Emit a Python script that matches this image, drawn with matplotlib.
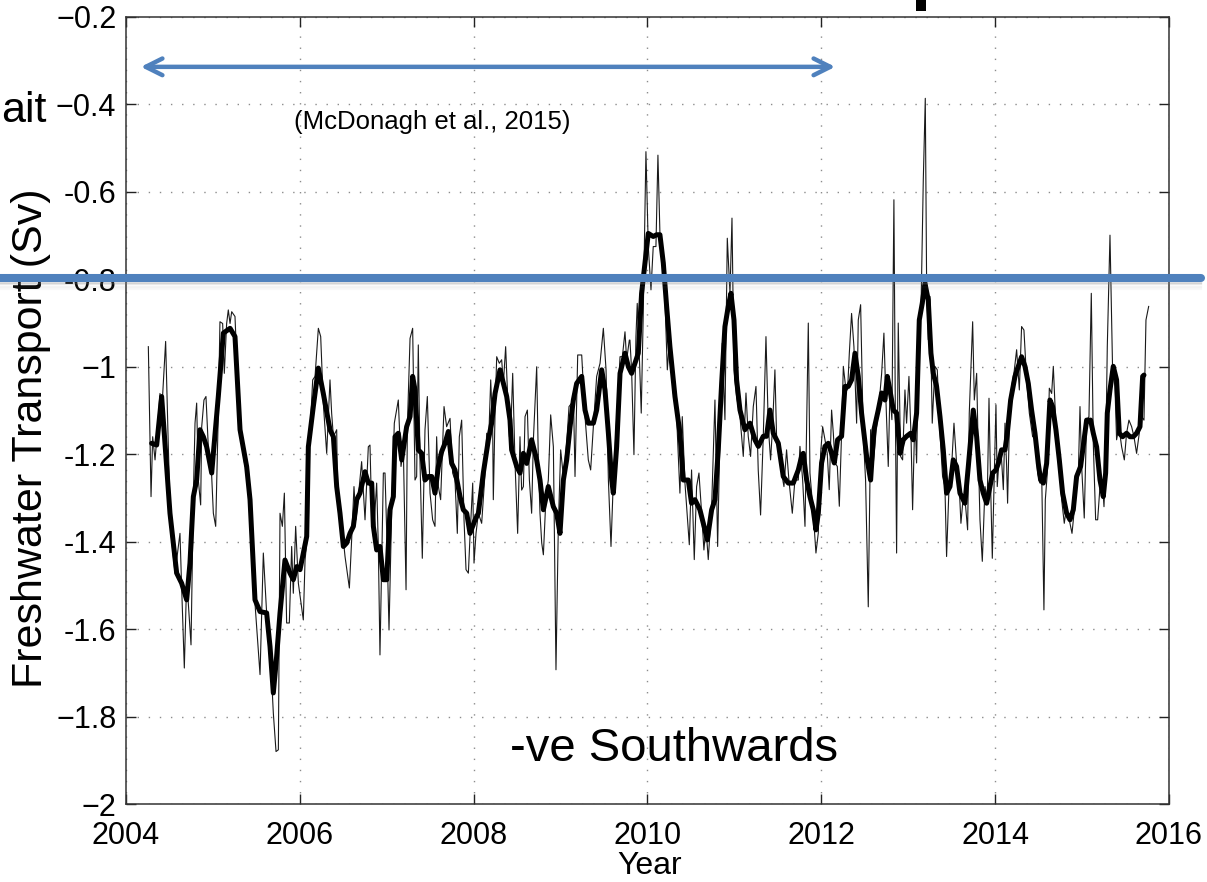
import matplotlib
matplotlib.use("Agg")
import matplotlib.pyplot as plt
from matplotlib.lines import Line2D
from matplotlib.patches import Rectangle

plt.rcParams['font.family'] = ['Liberation Sans', 'DejaVu Sans']

# ---- weekly-ish freshwater transport (thin) ----
thin_year = [
    2004.257, 2004.288, 2004.307, 2004.334, 2004.353, 2004.391, 2004.410, 2004.456, 2004.487, 2004.514,
    2004.564, 2004.621, 2004.640, 2004.671, 2004.698, 2004.717, 2004.748, 2004.775, 2004.794, 2004.813,
    2004.832, 2004.859, 2004.871, 2004.897, 2004.920, 2004.947, 2004.986, 2005.005, 2005.032, 2005.062,
    2005.081, 2005.112, 2005.131, 2005.158, 2005.177, 2005.197, 2005.216, 2005.254, 2005.292, 2005.331,
    2005.369, 2005.407, 2005.446, 2005.484, 2005.542, 2005.580, 2005.618, 2005.657, 2005.695, 2005.726,
    2005.753, 2005.772, 2005.799, 2005.822, 2005.848, 2005.879, 2005.906, 2005.925, 2005.952, 2005.983,
    2006.040, 2006.060, 2006.098, 2006.109, 2006.148, 2006.175, 2006.213, 2006.240, 2006.270, 2006.309,
    2006.347, 2006.366, 2006.386, 2006.424, 2006.432, 2006.481, 2006.520, 2006.570, 2006.596, 2006.623,
    2006.646, 2006.673, 2006.711, 2006.750, 2006.788, 2006.807, 2006.819, 2006.846, 2006.884, 2006.903,
    2006.922, 2006.961, 2006.980, 2007.000, 2007.026, 2007.057, 2007.087, 2007.133, 2007.164, 2007.191,
    2007.222, 2007.237, 2007.268, 2007.298, 2007.325, 2007.344, 2007.363, 2007.383, 2007.409, 2007.440,
    2007.467, 2007.498, 2007.528, 2007.555, 2007.574, 2007.594, 2007.620, 2007.659, 2007.689, 2007.728,
    2007.758, 2007.785, 2007.812, 2007.835, 2007.862, 2007.889, 2007.912, 2007.939, 2007.958, 2007.989,
    2008.004, 2008.027, 2008.054, 2008.092, 2008.131, 2008.150, 2008.169, 2008.196, 2008.219, 2008.226,
    2008.246, 2008.265, 2008.295, 2008.322, 2008.342, 2008.368, 2008.391, 2008.411, 2008.426, 2008.449,
    2008.476, 2008.506, 2008.533, 2008.552, 2008.572, 2008.591, 2008.618, 2008.641, 2008.667, 2008.687,
    2008.725, 2008.744, 2008.763, 2008.783, 2008.802, 2008.832, 2008.859, 2008.886, 2008.917, 2008.947,
    2008.974, 2009.001, 2009.032, 2009.070, 2009.097, 2009.128, 2009.147, 2009.166, 2009.197, 2009.243,
    2009.281, 2009.319, 2009.346, 2009.377, 2009.415, 2009.454, 2009.492, 2009.523, 2009.550, 2009.580,
    2009.607, 2009.645, 2009.684, 2009.711, 2009.741, 2009.760, 2009.791, 2009.798, 2009.817, 2009.844,
    2009.867, 2009.882, 2009.905, 2009.928, 2009.951, 2009.982, 2010.009, 2010.040, 2010.066, 2010.097,
    2010.120, 2010.143, 2010.182, 2010.228, 2010.258, 2010.297, 2010.335, 2010.373, 2010.400, 2010.431,
    2010.481, 2010.507, 2010.538, 2010.565, 2010.592, 2010.623, 2010.649, 2010.672, 2010.699, 2010.738,
    2010.776, 2010.807, 2010.833, 2010.860, 2010.891, 2010.918, 2010.949, 2010.972, 2010.995, 2011.025,
    2011.064, 2011.102, 2011.133, 2011.159, 2011.186, 2011.217, 2011.248, 2011.274, 2011.301, 2011.332,
    2011.363, 2011.390, 2011.416, 2011.439, 2011.466, 2011.485, 2011.512, 2011.543, 2011.570, 2011.600,
    2011.627, 2011.666, 2011.696, 2011.735, 2011.754, 2011.785, 2011.812, 2011.850, 2011.869, 2011.907,
    2011.938, 2011.965, 2011.992, 2012.015, 2012.042, 2012.068, 2012.091, 2012.118, 2012.138, 2012.157,
    2012.184, 2012.207, 2012.233, 2012.253, 2012.279, 2012.302, 2012.322, 2012.348, 2012.375, 2012.406,
    2012.425, 2012.452, 2012.483, 2012.509, 2012.540, 2012.567, 2012.598, 2012.628, 2012.655, 2012.694,
    2012.720, 2012.743, 2012.770, 2012.789, 2012.812, 2012.835, 2012.851, 2012.866, 2012.885, 2012.912,
    2012.935, 2012.962, 2012.981, 2013.008, 2013.031, 2013.050, 2013.077, 2013.096, 2013.123, 2013.146,
    2013.173, 2013.196, 2013.211, 2013.230, 2013.250, 2013.276, 2013.307, 2013.334, 2013.365, 2013.395,
    2013.422, 2013.441, 2013.468, 2013.499, 2013.526, 2013.556, 2013.583, 2013.606, 2013.633, 2013.660,
    2013.683, 2013.702, 2013.741, 2013.760, 2013.787, 2013.806, 2013.825, 2013.852, 2013.883, 2013.909,
    2013.929, 2013.948, 2013.967, 2013.990, 2014.009, 2014.024, 2014.044, 2014.067, 2014.094, 2014.113,
    2014.132, 2014.143, 2014.163, 2014.189, 2014.216, 2014.247, 2014.278, 2014.304, 2014.331, 2014.362,
    2014.393, 2014.431, 2014.458, 2014.489, 2014.515, 2014.535, 2014.561, 2014.577, 2014.600, 2014.623,
    2014.650, 2014.669, 2014.699, 2014.738, 2014.765, 2014.795, 2014.822, 2014.861, 2014.884, 2014.907,
    2014.930, 2014.956, 2014.976, 2014.995, 2015.025, 2015.052, 2015.079, 2015.106, 2015.129, 2015.156,
    2015.179, 2015.206, 2015.232, 2015.252, 2015.271, 2015.290, 2015.321, 2015.351, 2015.378, 2015.397,
    2015.424, 2015.455, 2015.486, 2015.512, 2015.539, 2015.570, 2015.597, 2015.627, 2015.658, 2015.685,
    2015.712, 2015.735, 2015.766,
]
thin_fw = [
    -0.954, -1.297, -1.160, -1.213, -1.167, -1.061, -1.106, -0.942, -1.183, -1.373,
    -1.472, -1.381, -1.503, -1.689, -1.487, -1.541, -1.636, -1.297, -1.129, -1.083,
    -1.259, -1.316, -1.137, -1.076, -1.068, -1.183, -1.251, -1.335, -1.365, -1.106,
    -0.897, -0.901, -1.015, -0.901, -0.870, -0.901, -0.874, -0.885, -1.068, -1.175,
    -1.228, -1.228, -1.396, -1.541, -1.704, -1.426, -1.563, -1.640, -1.792, -1.880,
    -1.876, -1.335, -1.365, -1.289, -1.586, -1.586, -1.411, -1.518, -1.365, -1.495,
    -1.579, -1.442, -1.365, -1.183, -1.030, -1.022, -0.912, -0.931, -1.083, -1.198,
    -1.030, -1.106, -1.160, -1.144, -1.274, -1.358, -1.434, -1.506, -1.396, -1.274,
    -1.350, -1.297, -1.217, -1.350, -1.183, -1.179, -1.274, -1.388, -1.266, -1.411,
    -1.659, -1.243, -1.243, -1.381, -1.602, -1.327, -1.129, -1.076, -1.228, -1.190,
    -1.510, -1.137, -0.935, -0.912, -1.259, -1.251, -0.950, -1.221, -1.438, -1.144,
    -1.068, -1.289, -1.350, -1.365, -1.160, -1.274, -1.304, -1.091, -1.137, -1.118,
    -1.243, -1.259, -1.381, -1.160, -1.122, -1.350, -1.464, -1.472, -1.388, -1.266,
    -1.449, -1.381, -1.335, -1.358, -1.243, -1.152, -1.190, -1.030, -1.144, -1.304,
    -1.106, -0.977, -0.992, -0.984, -1.038, -0.954, -1.068, -1.160, -1.152, -1.015,
    -1.221, -1.381, -1.160, -1.282, -1.274, -1.114, -1.099, -1.259, -1.335, -1.167,
    -1.000, -1.213, -1.335, -1.403, -1.430, -1.297, -1.259, -1.110, -1.183, -1.693,
    -1.365, -1.190, -1.251, -1.175, -1.091, -1.083, -1.061, -1.251, -0.973, -0.973,
    -1.114, -1.213, -1.236, -1.137, -1.022, -0.992, -0.912, -1.007, -1.259, -1.411,
    -1.259, -1.122, -0.977, -0.977, -0.920, -0.984, -0.939, -0.939, -1.007, -1.201,
    -0.931, -0.855, -0.969, -1.106, -0.878, -0.508, -0.725, -0.824, -0.725, -0.725,
    -0.516, -0.695, -0.740, -1.007, -0.923, -1.060, -1.114, -1.289, -1.114, -1.266,
    -1.407, -1.236, -1.441, -1.274, -1.243, -1.335, -1.419, -1.365, -1.441, -1.319,
    -1.076, -1.411, -1.159, -0.946, -1.121, -0.706, -0.832, -0.660, -1.007, -1.068,
    -1.114, -1.205, -1.060, -1.159, -1.205, -1.091, -1.045, -1.236, -1.339, -1.159,
    -0.931, -1.137, -1.213, -1.137, -1.007, -1.159, -1.190, -1.243, -1.274, -1.190,
    -1.259, -1.335, -1.259, -1.259, -1.182, -1.259, -1.365, -0.900, -1.243, -1.335,
    -1.426, -1.380, -1.198, -1.137, -1.167, -1.198, -1.281, -1.099, -1.152, -1.220,
    -1.228, -1.319, -1.152, -0.999, -1.045, -1.053, -0.969, -0.878, -0.954, -1.129,
    -0.893, -0.858, -1.159, -1.259, -1.549, -1.144, -1.220, -1.152, -1.106, -1.015,
    -0.923, -1.076, -1.228, -1.060, -1.121, -0.618, -1.091, -1.426, -0.900, -1.205,
    -1.213, -1.053, -1.129, -1.022, -1.152, -1.327, -1.106, -1.220, -0.931, -0.878,
    -0.573, -0.386, -0.801, -0.938, -0.839, -1.129, -0.999, -1.007, -1.152, -1.251,
    -1.274, -1.434, -1.281, -1.228, -1.129, -1.220, -1.259, -1.358, -1.297, -1.319,
    -1.373, -1.106, -0.897, -1.076, -1.015, -1.198, -1.350, -1.445, -1.274, -1.304,
    -1.072, -1.274, -1.438, -1.243, -1.087, -1.274, -1.213, -1.190, -1.281, -1.129,
    -1.228, -1.312, -1.137, -1.045, -1.015, -0.961, -1.053, -0.908, -0.916, -1.030,
    -1.106, -1.160, -1.160, -1.243, -1.266, -1.243, -1.556, -1.304, -1.243, -1.049,
    -1.061, -0.999, -1.137, -1.228, -1.304, -1.358, -1.320, -1.358, -1.381, -1.335,
    -1.266, -1.251, -1.091, -1.228, -1.346, -1.122, -1.114, -0.832, -1.175, -1.350,
    -1.350, -1.274, -1.259, -1.320, -1.213, -0.954, -0.699, -1.007, -1.045, -1.167,
    -1.137, -1.183, -1.213, -1.152, -1.122, -1.137, -1.160, -1.198, -1.152, -1.114,
    -1.122, -0.893, -0.862,
]

# ---- low-pass filtered transport (thick) ----
smooth_year = [
    2004.295, 2004.353, 2004.410, 2004.506, 2004.583, 2004.640, 2004.698, 2004.736, 2004.775, 2004.813,
    2004.851, 2004.890, 2004.928, 2004.986, 2005.005, 2005.062, 2005.120, 2005.197, 2005.254, 2005.312,
    2005.388, 2005.427, 2005.484, 2005.542, 2005.618, 2005.657, 2005.695, 2005.733, 2005.772, 2005.829,
    2005.887, 2005.925, 2005.964, 2006.002, 2006.079, 2006.098, 2006.155, 2006.213, 2006.270, 2006.347,
    2006.386, 2006.424, 2006.462, 2006.501, 2006.539, 2006.577, 2006.616, 2006.654, 2006.692, 2006.750,
    2006.788, 2006.827, 2006.846, 2006.884, 2006.922, 2006.961, 2007.000, 2007.037, 2007.076, 2007.095,
    2007.133, 2007.172, 2007.229, 2007.268, 2007.298, 2007.325, 2007.363, 2007.402, 2007.440, 2007.478,
    2007.517, 2007.555, 2007.594, 2007.632, 2007.670, 2007.709, 2007.747, 2007.785, 2007.843, 2007.881,
    2007.920, 2007.958, 2008.016, 2008.054, 2008.111, 2008.169, 2008.207, 2008.246, 2008.303, 2008.342,
    2008.380, 2008.418, 2008.437, 2008.495, 2008.533, 2008.572, 2008.610, 2008.667, 2008.725, 2008.763,
    2008.802, 2008.859, 2008.917, 2008.955, 2008.993, 2009.032, 2009.070, 2009.109, 2009.147, 2009.185,
    2009.243, 2009.281, 2009.319, 2009.377, 2009.415, 2009.473, 2009.511, 2009.550, 2009.588, 2009.607,
    2009.645, 2009.684, 2009.741, 2009.780, 2009.817, 2009.894, 2009.932, 2009.971, 2010.009, 2010.066,
    2010.105, 2010.143, 2010.182, 2010.220, 2010.258, 2010.316, 2010.373, 2010.412, 2010.469, 2010.507,
    2010.546, 2010.603, 2010.642, 2010.688, 2010.738, 2010.776, 2010.814, 2010.853, 2010.891, 2010.929,
    2010.960, 2010.995, 2011.025, 2011.064, 2011.121, 2011.179, 2011.236, 2011.275, 2011.332, 2011.370,
    2011.409, 2011.447, 2011.505, 2011.562, 2011.620, 2011.677, 2011.735, 2011.773, 2011.792, 2011.831,
    2011.869, 2011.907, 2011.938, 2011.965, 2012.003, 2012.042, 2012.080, 2012.118, 2012.149, 2012.187,
    2012.233, 2012.272, 2012.310, 2012.348, 2012.387, 2012.425, 2012.463, 2012.521, 2012.567, 2012.605,
    2012.655, 2012.694, 2012.732, 2012.759, 2012.789, 2012.828, 2012.866, 2012.905, 2012.943, 2012.981,
    2013.027, 2013.058, 2013.096, 2013.127, 2013.161, 2013.192, 2013.230, 2013.261, 2013.288, 2013.326,
    2013.365, 2013.403, 2013.441, 2013.480, 2013.518, 2013.556, 2013.595, 2013.652, 2013.691, 2013.748,
    2013.787, 2013.825, 2013.863, 2013.902, 2013.932, 2013.971, 2014.009, 2014.036, 2014.074, 2014.113,
    2014.140, 2014.178, 2014.228, 2014.266, 2014.304, 2014.343, 2014.381, 2014.419, 2014.458, 2014.496,
    2014.523, 2014.554, 2014.592, 2014.630, 2014.661, 2014.699, 2014.738, 2014.776, 2014.822, 2014.861,
    2014.899, 2014.937, 2014.983, 2015.022, 2015.052, 2015.098, 2015.129, 2015.167, 2015.206, 2015.244,
    2015.271, 2015.290, 2015.321, 2015.359, 2015.397, 2015.428, 2015.466, 2015.512, 2015.551, 2015.589,
    2015.627, 2015.666, 2015.697, 2015.712,
]
smooth_fw = [
    -1.175, -1.179, -1.068, -1.335, -1.472, -1.495, -1.533, -1.449, -1.297, -1.259,
    -1.144, -1.160, -1.183, -1.243, -1.198, -1.068, -0.923, -0.912, -0.931, -1.144,
    -1.228, -1.304, -1.533, -1.560, -1.563, -1.640, -1.746, -1.663, -1.563, -1.442,
    -1.472, -1.487, -1.457, -1.464, -1.388, -1.183, -1.091, -1.003, -1.061, -1.144,
    -1.160, -1.274, -1.335, -1.411, -1.403, -1.381, -1.365, -1.304, -1.289, -1.240,
    -1.266, -1.266, -1.365, -1.419, -1.411, -1.487, -1.487, -1.327, -1.297, -1.160,
    -1.152, -1.213, -1.137, -1.114, -1.022, -1.053, -1.190, -1.198, -1.259, -1.251,
    -1.251, -1.289, -1.228, -1.194, -1.175, -1.148, -1.221, -1.236, -1.297, -1.327,
    -1.335, -1.381, -1.350, -1.335, -1.243, -1.167, -1.129, -1.061, -1.007, -1.038,
    -1.068, -1.122, -1.190, -1.228, -1.243, -1.198, -1.221, -1.167, -1.213, -1.259,
    -1.327, -1.274, -1.320, -1.335, -1.381, -1.259, -1.213, -1.137, -1.076, -1.038,
    -1.022, -1.099, -1.129, -1.129, -1.099, -1.007, -1.053, -1.152, -1.259, -1.289,
    -1.183, -1.015, -0.969, -1.000, -1.015, -0.969, -0.832, -0.763, -0.695, -0.702,
    -0.698, -0.698, -0.763, -0.862, -0.954, -1.068, -1.152, -1.259, -1.259, -1.312,
    -1.304, -1.327, -1.358, -1.396, -1.327, -1.304, -1.190, -1.038, -0.908, -0.862,
    -0.832, -0.893, -1.030, -1.099, -1.144, -1.129, -1.167, -1.182, -1.159, -1.159,
    -1.099, -1.152, -1.175, -1.251, -1.266, -1.266, -1.236, -1.205, -1.198, -1.259,
    -1.297, -1.327, -1.373, -1.335, -1.220, -1.182, -1.175, -1.198, -1.220, -1.167,
    -1.159, -1.045, -1.045, -1.030, -0.969, -1.022, -1.106, -1.205, -1.259, -1.144,
    -1.099, -1.060, -1.076, -1.022, -1.053, -1.099, -1.106, -1.198, -1.167, -1.159,
    -1.152, -1.167, -1.106, -0.893, -0.855, -0.809, -0.847, -0.969, -1.015, -1.045,
    -1.114, -1.190, -1.289, -1.274, -1.213, -1.228, -1.289, -1.312, -1.228, -1.099,
    -1.160, -1.259, -1.289, -1.312, -1.282, -1.243, -1.236, -1.221, -1.190, -1.190,
    -1.152, -1.076, -1.022, -0.999, -0.977, -0.999, -1.038, -1.099, -1.152, -1.221,
    -1.259, -1.266, -1.221, -1.076, -1.091, -1.144, -1.213, -1.289, -1.335, -1.350,
    -1.327, -1.251, -1.228, -1.167, -1.122, -1.122, -1.152, -1.183, -1.259, -1.297,
    -1.243, -1.106, -1.053, -0.999, -1.030, -1.152, -1.160, -1.152, -1.160, -1.160,
    -1.152, -1.137, -1.022, -1.019,
]

year_ticks = [2004, 2006, 2008, 2010, 2012, 2014, 2016]
fw_ticks = [-2.0, -1.8, -1.6, -1.4, -1.2, -1.0, -0.8, -0.6, -0.4, -0.2]
fw_tick_labels = ['\u22122', '\u22121.8', '-1.6', '-1.4', '-1.2', '\u22121',
                  '-0.8', '-0.6', '\u22120.4', '\u22120.2']

BLUE = '#4F81BD'
W, H = 1207, 882

fig = plt.figure(figsize=(W / 100, H / 100), dpi=100)
ax = fig.add_axes([126 / W, 1 - 804 / H, (1169 - 126) / W, (804 - 17) / H])

ax.plot(thin_year, thin_fw, color='#1a1a1a', lw=0.8, zorder=3)
ax.plot(smooth_year, smooth_fw, color='black', lw=3.6, solid_joinstyle='round',
        solid_capstyle='round', zorder=4)

ax.set_xlim(2004, 2016)
ax.set_ylim(-2.0, -0.2)
ax.set_xticks(year_ticks)
ax.set_xticklabels([str(y) for y in year_ticks])
ax.set_yticks(fw_ticks)
ax.set_yticklabels(fw_tick_labels)

ax.grid(True, linestyle=(0, (1, 7)), color='#8c8c8c', lw=1.0)
ax.tick_params(direction='in', length=7, width=1.0, top=True, right=True,
               labelsize=22, colors='#222222', labelcolor='black')
ax.tick_params(axis='y', pad=7)
ax.tick_params(axis='x', pad=12)
for sp in ax.spines.values():
    sp.set_linewidth(1.1)
    sp.set_color('#333333')

# annotations inside the axes
ax.text(2007.52, -0.44, '(McDonagh et al., 2015)', fontsize=18.5,
        ha='center', va='center', color='black')
ax.text(2010.30, -1.902, '-ve Southwards', fontsize=34,
        ha='center', va='baseline', color='black')

# record-length arrow
ax.annotate('', xy=(2004.17, -0.314), xytext=(2012.16, -0.314),
            xycoords='data', textcoords='data',
            arrowprops=dict(arrowstyle='<->,head_length=1.2,head_width=0.6',
                            color=BLUE, lw=3.2, shrinkA=0, shrinkB=0),
            annotation_clip=False, zorder=6)

# axis labels
fig.text(31 / W, 1 - 438 / H, 'Freshwater Transport (Sv)', rotation=90,
         fontsize=31, ha='center', va='center')
fig.text(650 / W, 1 - 881 / H, 'Year', fontsize=23, ha='center', va='bottom')

# slide fragments around the chart
fig.text(1 / W, 1 - 122 / H, 'ait', fontsize=31, ha='left', va='baseline')
fig.add_artist(Rectangle((916 / W, 1 - 11 / H), 10 / W, 11 / H,
                         transform=fig.transFigure, facecolor='black',
                         edgecolor='none', zorder=8))

# horizontal reference bar across the slide with a soft shadow
ypix = 277.5
for k, a in enumerate([0.22, 0.15, 0.09, 0.05]):
    yy = 1 - (ypix + 5 + 2 * k) / H
    fig.add_artist(Line2D([0, 0.995], [yy, yy], transform=fig.transFigure,
                          color='#7f7f7f', alpha=a, lw=1.6, zorder=9))
fig.add_artist(Line2D([0, 0.995], [1 - ypix / H] * 2, transform=fig.transFigure,
                      color=BLUE, lw=5.8, solid_capstyle='round', zorder=10))

fig.savefig('out.png', dpi=100)
